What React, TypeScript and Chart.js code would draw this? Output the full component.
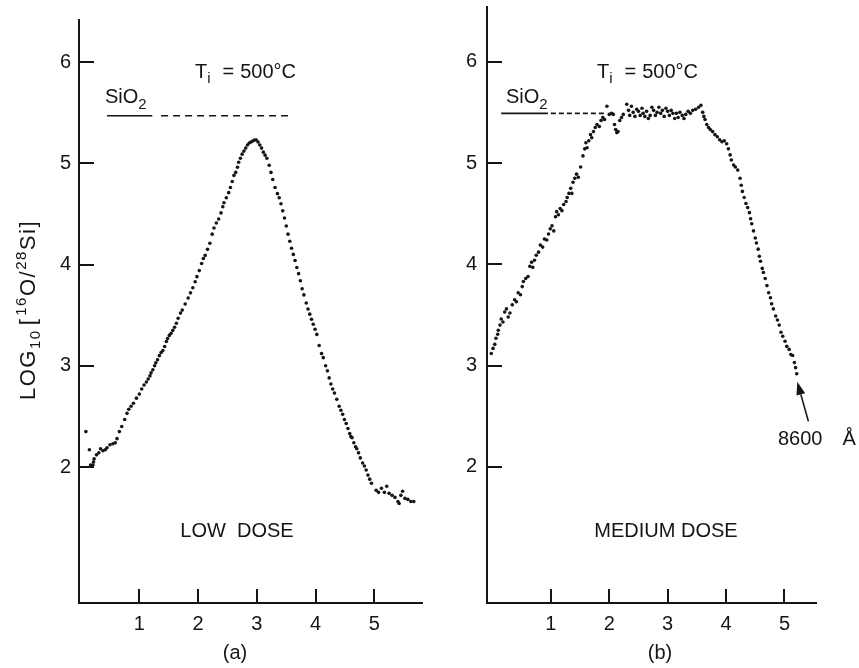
import React, { useEffect, useRef } from "react";
import { Chart, registerables } from "chart.js";
Chart.register(...registerables);

const FONT = '"Liberation Sans", Arial, sans-serif';
const INK = "#151515";

// ---------- data ----------
const xTickValues = [1, 2, 3, 4, 5];
const yTickValues = [2, 3, 4, 5, 6];

const lowDoseX = [
  0.09, 0.15, 0.17, 0.19, 0.21, 0.22, 0.23, 0.27, 0.31, 0.34, 0.38, 0.42, 0.45, 0.5, 0.55, 0.59, 0.62, 0.66, 0.7, 0.75,
  0.79, 0.82, 0.86, 0.9, 0.95, 1.0, 1.04, 1.08, 1.12, 1.15, 1.18, 1.2, 1.23, 1.26, 1.28, 1.31, 1.34, 1.37, 1.4, 1.43,
  1.46, 1.48, 1.51, 1.54, 1.57, 1.6, 1.63, 1.66, 1.7, 1.73, 1.78, 1.83, 1.87, 1.91, 1.95, 1.98, 2.02, 2.06, 2.09, 2.12,
  2.16, 2.2, 2.24, 2.27, 2.31, 2.35, 2.39, 2.42, 2.44, 2.48, 2.52, 2.55, 2.58, 2.61, 2.64, 2.67, 2.69, 2.72, 2.75, 2.78,
  2.81, 2.84, 2.87, 2.9, 2.93, 2.96, 2.99, 3.02, 3.05, 3.08, 3.11, 3.14, 3.17, 3.21, 3.24, 3.27, 3.31, 3.35, 3.38, 3.41,
  3.44, 3.47, 3.5, 3.53, 3.56, 3.59, 3.62, 3.65, 3.68, 3.71, 3.74, 3.77, 3.8, 3.84, 3.87, 3.9, 3.93, 3.96, 3.99, 4.02,
  4.06, 4.1, 4.13, 4.17, 4.2, 4.23, 4.26, 4.29, 4.32, 4.36, 4.4, 4.43, 4.46, 4.49, 4.52, 4.55, 4.58, 4.6, 4.62, 4.65,
  4.68, 4.7, 4.73, 4.76, 4.8, 4.83, 4.86, 4.89, 4.92, 4.95, 5.03, 5.07, 5.12, 5.17, 5.21, 5.25, 5.3, 5.35, 5.4, 5.42,
  5.45, 5.48, 5.52, 5.57, 5.62, 5.67,
];
const lowDoseY = [
  2.35, 2.17, 2.02, 2.01, 2.02, 2.05, 2.08, 2.12, 2.14, 2.18, 2.16, 2.17, 2.19, 2.22, 2.23, 2.24, 2.28, 2.35, 2.4, 2.47,
  2.53, 2.57, 2.6, 2.63, 2.68, 2.72, 2.77, 2.81, 2.84, 2.87, 2.9, 2.93, 2.96, 3.0, 3.03, 3.06, 3.1, 3.13, 3.15, 3.19,
  3.24, 3.27, 3.3, 3.32, 3.35, 3.38, 3.42, 3.47, 3.52, 3.55, 3.61, 3.67, 3.72, 3.77, 3.83, 3.88, 3.94, 4.01, 4.06, 4.09,
  4.15, 4.21, 4.3, 4.36, 4.41, 4.45, 4.51, 4.57, 4.61, 4.66, 4.71, 4.76, 4.82, 4.88, 4.91, 4.96, 5.01, 5.05, 5.09, 5.12,
  5.15, 5.18, 5.2, 5.21, 5.22, 5.23, 5.23, 5.21, 5.18, 5.15, 5.11, 5.08, 5.05, 4.98, 4.91, 4.84, 4.76, 4.7, 4.66, 4.6,
  4.53, 4.46, 4.38, 4.3, 4.23, 4.16, 4.1, 4.04, 3.97, 3.91, 3.84, 3.76, 3.7, 3.62, 3.56, 3.51, 3.46, 3.41, 3.36, 3.31,
  3.2, 3.12, 3.08, 3.0, 2.95, 2.88, 2.82, 2.77, 2.73, 2.67, 2.6, 2.56, 2.52, 2.47, 2.43, 2.38, 2.33, 2.3, 2.29, 2.24,
  2.2, 2.18, 2.14, 2.09, 2.04, 2.01, 1.97, 1.92, 1.88, 1.84, 1.77, 1.75, 1.79, 1.75, 1.81, 1.74, 1.72, 1.7, 1.66, 1.64,
  1.72, 1.76, 1.69, 1.68, 1.66, 1.66,
];

const medDoseX = [
  -0.02, 0.01, 0.04, 0.06, 0.09, 0.1, 0.13, 0.15, 0.18, 0.21, 0.24, 0.27, 0.3, 0.34, 0.38, 0.41, 0.44, 0.48, 0.51, 0.53,
  0.57, 0.61, 0.64, 0.67, 0.69, 0.72, 0.75, 0.79, 0.82, 0.86, 0.89, 0.93, 0.96, 0.99, 1.02, 1.05, 1.08, 1.1, 1.13, 1.16,
  1.19, 1.22, 1.26, 1.28, 1.31, 1.34, 1.36, 1.38, 1.41, 1.44, 1.47, 1.51, 1.55, 1.58, 1.6, 1.62, 1.65, 1.68, 1.7, 1.73,
  1.76, 1.79, 1.83, 1.86, 1.89, 1.92, 1.96, 2.0, 2.04, 2.07, 2.09, 2.11, 2.13, 2.15, 2.18, 2.21, 2.24, 2.3, 2.33, 2.35,
  2.38, 2.41, 2.44, 2.47, 2.5, 2.53, 2.56, 2.58, 2.61, 2.64, 2.67, 2.7, 2.73, 2.76, 2.79, 2.82, 2.85, 2.88, 2.91, 2.94,
  2.97, 3.0, 3.03, 3.06, 3.09, 3.12, 3.15, 3.18, 3.21, 3.25, 3.28, 3.31, 3.35, 3.39, 3.43, 3.48, 3.53, 3.57, 3.6, 3.62,
  3.64, 3.67, 3.7, 3.73, 3.77, 3.81, 3.85, 3.89, 3.93, 3.97, 4.01, 4.04, 4.07, 4.09, 4.13, 4.16, 4.2, 4.24, 4.26, 4.28,
  4.31, 4.34, 4.37, 4.4, 4.42, 4.44, 4.47, 4.5, 4.52, 4.55, 4.57, 4.59, 4.62, 4.64, 4.67, 4.7, 4.73, 4.76, 4.78, 4.81,
  4.85, 4.88, 4.91, 4.94, 4.97, 5.01, 5.04, 5.08, 5.11, 5.14, 5.17, 5.19, 5.21,
];
const medDoseY = [
  3.12, 3.17, 3.21, 3.27, 3.31, 3.35, 3.4, 3.46, 3.43, 3.53, 3.56, 3.48, 3.52, 3.6, 3.65, 3.63, 3.72, 3.7, 3.78, 3.83,
  3.86, 3.88, 3.98, 4.02, 3.97, 4.04, 4.09, 4.12, 4.19, 4.17, 4.25, 4.24, 4.3, 4.35, 4.38, 4.33, 4.47, 4.52, 4.49, 4.55,
  4.53, 4.59, 4.62, 4.66, 4.7, 4.75, 4.7, 4.81, 4.85, 4.89, 4.86, 4.96, 5.07, 5.14, 5.2, 5.15, 5.22, 5.28, 5.25, 5.31,
  5.35, 5.38, 5.36, 5.42, 5.45, 5.43, 5.56, 5.48, 5.49, 5.48, 5.38, 5.33, 5.3, 5.31, 5.42, 5.45, 5.48, 5.58, 5.52, 5.47,
  5.56, 5.5, 5.46, 5.53, 5.51, 5.47, 5.54, 5.49, 5.46, 5.51, 5.44, 5.47, 5.55, 5.52, 5.47, 5.5, 5.55, 5.49, 5.52, 5.46,
  5.54, 5.51, 5.47, 5.52, 5.49, 5.44, 5.49, 5.45, 5.5, 5.47, 5.44, 5.48, 5.51, 5.49, 5.52, 5.53, 5.55, 5.57, 5.5, 5.46,
  5.43, 5.38, 5.35, 5.33, 5.31, 5.28, 5.26, 5.23, 5.21, 5.22, 5.19, 5.14, 5.08, 5.03, 4.98, 4.96, 4.93, 4.85, 4.78, 4.72,
  4.66, 4.6, 4.56, 4.51, 4.45, 4.4, 4.33, 4.26, 4.21, 4.15, 4.08, 4.03, 3.96, 3.92, 3.86, 3.79, 3.72, 3.67, 3.61, 3.56,
  3.49, 3.45, 3.4, 3.33, 3.29, 3.24, 3.19, 3.16, 3.11, 3.1, 3.03, 2.98, 2.92,
];

// SiO2 reference level: solid segment then dashed segment [x0, x1]
const sio2LevelA = 5.47;
const sio2SolidA = [0.45, 1.22];
const sio2DashA = [1.37, 3.53];
const sio2LevelB = 5.49;
const sio2SolidB = [0.15, 0.95];
const sio2DashB = [1.0, 1.96];

// arrow in panel (b): tail -> head, data coords
const arrowTailB = [5.41, 2.45];
const arrowHeadB = [5.22, 2.84];

// ---------- drawing helpers ----------
type Part = { t: string; size: number; dy?: number; gap?: number };

function drawRich(ctx: CanvasRenderingContext2D, parts: Part[], x: number, y: number, align = "left") {
  let w = 0;
  for (const p of parts) {
    ctx.font = `${p.size}px ${FONT}`;
    w += (p.gap || 0) + ctx.measureText(p.t).width;
  }
  let cx = align === "center" ? x - w / 2 : x;
  ctx.fillStyle = INK;
  ctx.textAlign = "left";
  ctx.textBaseline = "alphabetic";
  for (const p of parts) {
    ctx.font = `${p.size}px ${FONT}`;
    cx += p.gap || 0;
    ctx.fillText(p.t, cx, y + (p.dy || 0));
    cx += ctx.measureText(p.t).width;
  }
}

const decorPlugin = {
  id: "decor",
  afterDraw(chart: any, _args: any, opts: any) {
    const { ctx } = chart;
    const x = chart.scales.x;
    const y = chart.scales.y;
    ctx.save();
    ctx.strokeStyle = INK;
    ctx.lineWidth = 2;
    // inward tick marks
    for (const v of xTickValues) {
      const px = Math.round(x.getPixelForValue(v));
      ctx.beginPath();
      ctx.moveTo(px, y.bottom);
      ctx.lineTo(px, y.bottom - 14);
      ctx.stroke();
    }
    for (const v of yTickValues) {
      const py = Math.round(y.getPixelForValue(v));
      ctx.beginPath();
      ctx.moveTo(x.left, py);
      ctx.lineTo(x.left + 15, py);
      ctx.stroke();
    }
    // texts
    for (const t of opts.texts || []) drawRich(ctx, t.parts, t.x, t.y, t.align);
    // arrow
    if (opts.arrow) {
      const [t, h] = opts.arrow;
      const x0 = x.getPixelForValue(t[0]);
      const y0 = y.getPixelForValue(t[1]);
      const x1 = x.getPixelForValue(h[0]);
      const y1 = y.getPixelForValue(h[1]);
      const ang = Math.atan2(y1 - y0, x1 - x0);
      const hl = 13;
      const hw = 4.5;
      const bx = x1 - hl * Math.cos(ang);
      const by = y1 - hl * Math.sin(ang);
      ctx.lineWidth = 1.6;
      ctx.beginPath();
      ctx.moveTo(x0, y0);
      ctx.lineTo(bx, by);
      ctx.stroke();
      ctx.fillStyle = INK;
      ctx.beginPath();
      ctx.moveTo(x1, y1);
      ctx.lineTo(bx + hw * Math.sin(ang), by - hw * Math.cos(ang));
      ctx.lineTo(bx - hw * Math.sin(ang), by + hw * Math.cos(ang));
      ctx.closePath();
      ctx.fill();
    }
    // rotated y-axis title
    if (opts.yTitle) {
      ctx.translate(opts.yTitle.x, opts.yTitle.y);
      ctx.rotate(-Math.PI / 2);
      (ctx as any).letterSpacing = "1.5px";
      drawRich(ctx, opts.yTitle.parts, 0, 8, "center");
      (ctx as any).letterSpacing = "0px";
    }
    ctx.restore();
  },
};

function makeConfig(p: any) {
  const pts = p.xs.map((v: number, i: number) => ({ x: v, y: p.ys[i] }));
  return {
    type: "scatter",
    data: {
      datasets: [
        {
          data: pts,
          pointRadius: 1.8,
          pointBackgroundColor: INK,
          pointBorderWidth: 0,
          showLine: false,
        },
        {
          type: "line",
          data: [
            { x: p.solid[0], y: p.level },
            { x: p.solid[1], y: p.level },
          ],
          borderColor: INK,
          borderWidth: 1.6,
          pointRadius: 0,
        },
        {
          type: "line",
          data: [
            { x: p.dash[0], y: p.level },
            { x: p.dash[1], y: p.level },
          ],
          borderColor: INK,
          borderWidth: 1.6,
          borderDash: p.dashPattern,
          pointRadius: 0,
        },
      ],
    },
    options: {
      animation: false,
      responsive: false,
      devicePixelRatio: 1,
      layout: { padding: p.padding },
      plugins: {
        legend: { display: false },
        tooltip: { enabled: false },
        decor: p.decor,
      },
      scales: {
        x: {
          type: "linear",
          min: p.xMin,
          max: p.xMax,
          grid: { display: false, drawTicks: false },
          border: { display: true, color: INK, width: 2 },
          ticks: { font: { family: FONT, size: 20 }, color: INK, padding: 9, maxRotation: 0 },
          afterBuildTicks: (s: any) => {
            s.ticks = xTickValues.map((v) => ({ value: v }));
          },
          afterFit: (s: any) => {
            s.height = 65;
            s.paddingLeft = 0;
            s.paddingRight = 0;
            s.paddingTop = 0;
            s.paddingBottom = 0;
          },
        },
        y: {
          type: "linear",
          min: p.yMin,
          max: p.yMax,
          grid: { display: false, drawTicks: false },
          border: { display: true, color: INK, width: 2 },
          ticks: { font: { family: FONT, size: 20 }, color: INK, padding: p.yPad },
          afterBuildTicks: (s: any) => {
            s.ticks = yTickValues.map((v) => ({ value: v }));
          },
          afterFit: (s: any) => {
            s.width = p.yWidth;
            s.paddingLeft = 0;
            s.paddingRight = 0;
            s.paddingTop = 0;
            s.paddingBottom = 0;
          },
        },
      },
    },
    plugins: [decorPlugin],
  };
}

const panelA = {
  xs: lowDoseX,
  ys: lowDoseY,
  level: sio2LevelA,
  solid: sio2SolidA,
  dash: sio2DashA,
  dashPattern: [7, 5],
  xMin: -0.027,
  xMax: 5.81,
  yMin: 0.657,
  yMax: 6.415,
  yWidth: 79,
  yPad: 8,
  padding: { left: 0, top: 20, right: 8, bottom: 0 },
  decor: {
    texts: [
      { parts: [{ t: "T", size: 20 }, { t: "i", size: 15, dy: 5 }, { t: "=", size: 20, gap: 12 }, { t: "500°C", size: 20, gap: 6 }], x: 195, y: 78 },
      { parts: [{ t: "SiO", size: 20 }, { t: "2", size: 15, dy: 6 }], x: 105, y: 103 },
      { parts: [{ t: "LOW  DOSE", size: 20 }], x: 237, y: 537, align: "center" },
      { parts: [{ t: "(a)", size: 20 }], x: 235, y: 659, align: "center" },
    ],
    yTitle: {
      x: 27,
      y: 310,
      parts: [
        { t: "LOG", size: 22 },
        { t: "10", size: 15, dy: 5 },
        { t: "[", size: 22, gap: 4 },
        { t: "16", size: 15, dy: -9, gap: 2 },
        { t: "O/", size: 22 },
        { t: "28", size: 15, dy: -9 },
        { t: "Si]", size: 22 },
      ],
    },
  },
};

const panelB = {
  xs: medDoseX,
  ys: medDoseY,
  level: sio2LevelB,
  solid: sio2SolidB,
  dash: sio2DashB,
  dashPattern: [5, 3],
  xMin: -0.093,
  xMax: 5.54,
  yMin: 0.657,
  yMax: 6.54,
  yWidth: 57,
  yPad: 10,
  padding: { left: 0, top: 7, right: 43, bottom: 0 },
  decor: {
    texts: [
      { parts: [{ t: "T", size: 20 }, { t: "i", size: 15, dy: 5 }, { t: "=", size: 20, gap: 12 }, { t: "500°C", size: 20, gap: 6 }], x: 167, y: 78 },
      { parts: [{ t: "SiO", size: 20 }, { t: "2", size: 15, dy: 6 }], x: 76, y: 103 },
      { parts: [{ t: "MEDIUM DOSE", size: 20 }], x: 236, y: 537, align: "center" },
      { parts: [{ t: "(b)", size: 20 }], x: 230, y: 659, align: "center" },
      { parts: [{ t: "8600", size: 20 }, { t: "Å", size: 20, gap: 20 }], x: 348, y: 445 },
    ],
    arrow: [arrowTailB, arrowHeadB],
  },
};

function Panel({ cfg, left, width }: { cfg: any; left: number; width: number }) {
  const ref = useRef<HTMLCanvasElement>(null);
  useEffect(() => {
    if (!ref.current) return;
    const chart = new Chart(ref.current, makeConfig(cfg) as any);
    return () => chart.destroy();
  }, [cfg]);
  return (
    <canvas
      ref={ref}
      width={width}
      height={668}
      style={{ position: "absolute", left, top: 0, width, height: 668, display: "block" }}
    />
  );
}

export default function App() {
  return (
    <div style={{ position: "absolute", left: 0, top: 0, width: 859, height: 668, background: "#fff", overflow: "hidden" }}>
      <Panel cfg={panelA} left={0} width={430} />
      <Panel cfg={panelB} left={430} width={429} />
    </div>
  );
}
